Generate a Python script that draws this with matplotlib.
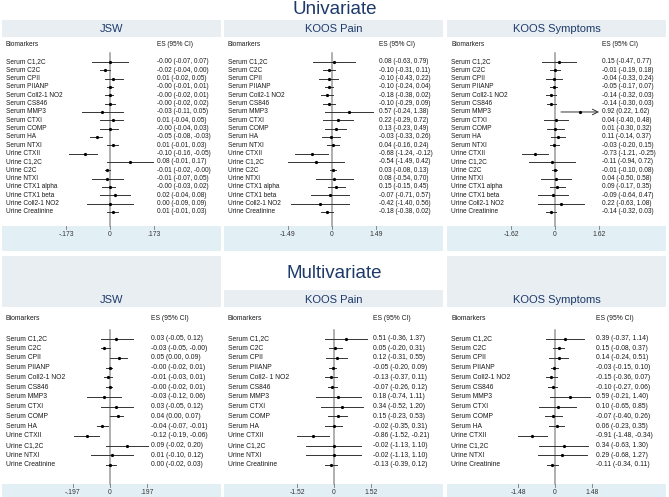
import matplotlib
matplotlib.use("Agg")
import matplotlib.pyplot as plt
import matplotlib.transforms as mtransforms
from matplotlib.patches import Rectangle

plt.rcParams['font.family'] = ['Liberation Sans', 'DejaVu Sans']

W, H = 669, 497

UNI_LABELS = ["Serum C1,2C", "Serum C2C", "Serum CPII", "Serum PIIANP", "Serum Coll2-1 NO2",
              "Serum CS846", "Serum MMP3", "Serum CTXI", "Serum COMP", "Serum HA", "Serum NTXI",
              "Urine CTXII", "Urine C1,2C", "Urine C2C", "Urine NTXI", "Urine CTX1 alpha",
              "Urine CTX1 beta", "Urine Coll2-1 NO2", "Urine Creatinine"]
MULTI_LABELS = ["Serum C1,2C", "Serum C2C", "Serum CPII", "Serum PIIANP", "Serum Coll2-1 NO2",
                "Serum CS846", "Serum MMP3", "Serum CTXI", "Serum COMP", "Serum HA",
                "Urine CTXII", "Urine C1,2C", "Urine NTXI", "Urine Creatinine"]
MULTI_LABELS_PAIN = [l.replace("Coll2-1", "Coll2- 1") for l in MULTI_LABELS]

PANEL_TITLES = ["JSW", "KOOS Pain", "KOOS Symptoms"]

# univariate
JSW_UNI_ES = [-0.00, -0.02, 0.01, -0.00, -0.00, -0.00, -0.03, 0.01, -0.00, -0.05, 0.01,
              -0.10, 0.08, -0.01, -0.01, -0.00, 0.02, 0.00, 0.01]
JSW_UNI_LO = [-0.07, -0.04, -0.02, -0.01, -0.02, -0.02, -0.11, -0.04, -0.04, -0.08, -0.01,
              -0.16, -0.01, -0.02, -0.07, -0.03, -0.04, -0.09, -0.01]
JSW_UNI_HI = [0.07, 0.00, 0.05, 0.01, 0.01, 0.02, 0.05, 0.05, 0.03, -0.03, 0.03,
              -0.05, 0.17, -0.00, 0.05, 0.02, 0.08, 0.09, 0.03]

PAIN_UNI_ES = [0.08, -0.10, -0.10, -0.10, -0.18, -0.10, 0.57, 0.22, 0.13, -0.03, 0.04,
               -0.68, -0.54, 0.03, 0.08, 0.15, -0.07, -0.42, -0.18]
PAIN_UNI_LO = [-0.63, -0.31, -0.43, -0.24, -0.38, -0.29, -0.24, -0.29, -0.23, -0.33, -0.16,
               -1.24, -1.49, -0.08, -0.54, -0.15, -0.71, -1.40, -0.38]
PAIN_UNI_HI = [0.79, 0.11, 0.22, 0.04, 0.02, 0.09, 1.38, 0.72, 0.49, 0.26, 0.24,
               -0.12, 0.42, 0.13, 0.70, 0.45, 0.57, 0.56, 0.02]

SYM_UNI_ES = [0.15, -0.01, -0.04, -0.05, -0.14, -0.14, 0.92, 0.04, 0.01, 0.11, -0.03,
              -0.73, -0.11, -0.01, 0.04, 0.09, -0.09, 0.22, -0.14]
SYM_UNI_LO = [-0.47, -0.19, -0.33, -0.17, -0.32, -0.30, 0.22, -0.40, -0.30, -0.14, -0.20,
              -1.21, -0.94, -0.10, -0.50, -0.17, -0.64, -0.63, -0.32]
SYM_UNI_HI = [0.77, 0.18, 0.24, 0.07, 0.03, 0.03, 1.62, 0.48, 0.32, 0.37, 0.15,
              -0.25, 0.72, 0.08, 0.58, 0.35, 0.47, 1.08, 0.03]
SYM_UNI_ARROW = ["Serum MMP3"]

# multivariate
JSW_MULTI_ES = [0.03, -0.03, 0.05, -0.00, -0.01, -0.00, -0.03, 0.03, 0.04, -0.04,
                -0.12, 0.09, 0.01, 0.00]
JSW_MULTI_LO = [-0.05, -0.05, 0.00, -0.02, -0.03, -0.02, -0.12, -0.05, 0.00, -0.07,
                -0.19, -0.02, -0.10, -0.02]
JSW_MULTI_HI = [0.12, -0.00, 0.09, 0.01, 0.01, 0.01, 0.06, 0.12, 0.07, -0.01,
                -0.06, 0.20, 0.12, 0.03]

PAIN_MULTI_ES = [0.51, 0.05, 0.12, -0.05, -0.13, -0.07, 0.18, 0.34, 0.15, -0.02,
                 -0.86, -0.02, -0.02, -0.13]
PAIN_MULTI_LO = [-0.36, -0.20, -0.31, -0.20, -0.37, -0.26, -0.74, -0.52, -0.23, -0.35,
                 -1.52, -1.13, -1.13, -0.39]
PAIN_MULTI_HI = [1.37, 0.31, 0.55, 0.09, 0.11, 0.12, 1.11, 1.20, 0.53, 0.31,
                 -0.21, 1.10, 1.10, 0.12]

SYM_MULTI_ES = [0.39, 0.15, 0.14, -0.03, -0.15, -0.10, 0.59, 0.10, -0.07, 0.06,
                -0.91, 0.34, 0.29, -0.11]
SYM_MULTI_LO = [-0.37, -0.08, -0.24, -0.15, -0.36, -0.27, -0.21, -0.65, -0.40, -0.23,
                -1.48, -0.63, -0.68, -0.34]
SYM_MULTI_HI = [1.14, 0.37, 0.51, 0.10, 0.07, 0.06, 1.40, 0.85, 0.26, 0.35,
                -0.34, 1.30, 1.27, 0.11]

UNI_LIMITS = [0.173, 1.49, 1.62]
MULTI_LIMITS = [0.197, 1.52, 1.48]

NAVY = "#1d3a6a"
TEXT = "#1a1a1a"
TITLE_BAND = "#e8eef2"
AXIS_BAND = "#e2eff4"

PANEL_LEFT = [2, 224, 447]
PANEL_W = 219

TOP = dict(title_y=29, band=(20, 37), head=44, first=62, step=8.33, zline=(53, 226),
           axband=(226, 251), tick_y=235, half=44, es_off=155, zero=[110, 332, 555], fs=4.7)
BOT = dict(title_y=300, band=(256, 307), head=318, first=338.5, step=9.73, zline=(330, 484),
           axband=(484, 497), tick_y=492, half=37, es_off=149, zero=[110, 334, 555], fs=4.9)


def fx(x):
    return x / W


def fy(y):
    return 1 - y / H


def tick_text(v):
    return f"{v:g}".replace("0.", ".")


def fig_rect(fig, x0, y0, x1, y1, color):
    fig.patches.append(Rectangle((fx(x0), fy(y1)), fx(x1 - x0), (y1 - y0) / H,
                                 transform=fig.transFigure, color=color, zorder=-5, lw=0))


def draw_panel(fig, k, lay, title, labels, es, lo, hi, lim, arrows=(), band_top=None):
    left = PANEL_LEFT[k]
    zx = lay["zero"][k]
    n = len(labels)
    first, step = lay["first"], lay["step"]
    last = first + (n - 1) * step

    # background bands
    fig_rect(fig, left, band_top if band_top else lay["band"][0], left + PANEL_W, lay["band"][1], TITLE_BAND)
    fig_rect(fig, left, lay["axband"][0], left + PANEL_W, lay["axband"][1], AXIS_BAND)
    fig.text(fx(left + PANEL_W / 2), fy(lay["title_y"]), title, ha="center", va="center",
             fontsize=8, color=NAVY)

    ax = fig.add_axes([fx(zx - lay["half"]), fy(last + step), fx(2 * lay["half"]), (n + 1) * step / H])
    ax.set_xlim(-lim, lim)
    ax.set_ylim(n, -1)
    ax.axis("off")

    def ydata(ypix):
        return (ypix - first) / step

    ax.plot([0, 0], [ydata(lay["zline"][0]), ydata(lay["zline"][1])], color="#9a9a9a",
            lw=1.1, clip_on=False, zorder=1)

    for i in range(n):
        if labels[i] in arrows:
            ax.annotate("", xy=(hi[i], i), xytext=(lo[i], i),
                        arrowprops=dict(arrowstyle="->", lw=0.7, color="#333333",
                                        shrinkA=0, shrinkB=0), annotation_clip=False)
        else:
            ax.plot([lo[i], hi[i]], [i, i], color="#333333", lw=0.7, clip_on=False, zorder=2)
    ax.plot(es, range(n), "o", ms=1.3, color="black", clip_on=False, zorder=3)

    trans = mtransforms.blended_transform_factory(fig.transFigure, ax.transData)
    fs = lay["fs"]
    x_lab = fx(left + 4)
    x_es = fx(left + lay["es_off"])
    for i in range(n):
        ax.text(x_lab, i, labels[i], transform=trans, ha="left", va="center", fontsize=fs, color=TEXT)
        ax.text(x_es, i, f"{es[i]:.2f} ({lo[i]:.2f}, {hi[i]:.2f})", transform=trans,
                ha="left", va="center", fontsize=fs, color=TEXT)
    fig.text(x_lab, fy(lay["head"]), "Biomarkers", ha="left", va="center", fontsize=fs, color=TEXT)
    fig.text(x_es, fy(lay["head"]), "ES (95% CI)", ha="left", va="center", fontsize=fs, color=TEXT)

    ttrans = mtransforms.blended_transform_factory(ax.transData, fig.transFigure)
    for t in (-lim, 0, lim):
        ax.text(t, fy(lay["tick_y"]), "0" if t == 0 else tick_text(t), transform=ttrans,
                ha="center", va="center", fontsize=4.9, color="#333333")
        ax.plot([t, t], [fy(lay["axband"][0]), fy(lay["axband"][0] + 2.5)], transform=ttrans,
                color="#777777", lw=0.6, clip_on=False)


fig = plt.figure(figsize=(W / 100, H / 100), dpi=100)

fig.text(0.5, fy(10), "Univariate", ha="center", va="center", fontsize=13.5, color=NAVY)
fig.text(0.5, fy(273), "Multivariate", ha="center", va="center", fontsize=13.5, color=NAVY)

draw_panel(fig, 0, TOP, PANEL_TITLES[0], UNI_LABELS, JSW_UNI_ES, JSW_UNI_LO, JSW_UNI_HI, UNI_LIMITS[0])
draw_panel(fig, 1, TOP, PANEL_TITLES[1], UNI_LABELS, PAIN_UNI_ES, PAIN_UNI_LO, PAIN_UNI_HI, UNI_LIMITS[1])
draw_panel(fig, 2, TOP, PANEL_TITLES[2], UNI_LABELS, SYM_UNI_ES, SYM_UNI_LO, SYM_UNI_HI, UNI_LIMITS[2],
           arrows=SYM_UNI_ARROW)

draw_panel(fig, 0, BOT, PANEL_TITLES[0], MULTI_LABELS, JSW_MULTI_ES, JSW_MULTI_LO, JSW_MULTI_HI,
           MULTI_LIMITS[0])
draw_panel(fig, 1, BOT, PANEL_TITLES[1], MULTI_LABELS_PAIN, PAIN_MULTI_ES, PAIN_MULTI_LO, PAIN_MULTI_HI,
           MULTI_LIMITS[1], band_top=290)
draw_panel(fig, 2, BOT, PANEL_TITLES[2], MULTI_LABELS, SYM_MULTI_ES, SYM_MULTI_LO, SYM_MULTI_HI,
           MULTI_LIMITS[2])

fig.savefig("out.png", dpi=100)
